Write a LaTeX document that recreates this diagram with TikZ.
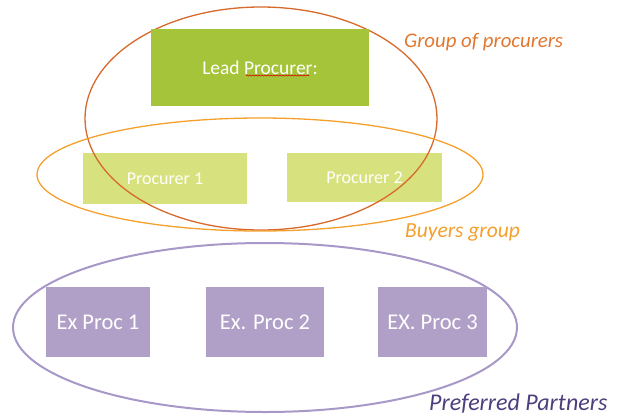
\documentclass[tikz,border=0pt]{standalone}
\usepackage{fontspec}
\setmainfont{Carlito}
\usetikzlibrary{positioning}
\usetikzlibrary{shapes.geometric}
\usetikzlibrary{decorations.pathmorphing}
\definecolor{leadgreen}{HTML}{A5C43A}
\definecolor{procgreen}{HTML}{D7E27E}
\definecolor{exlilac}{HTML}{B0A0C7}
\definecolor{grpbrown}{HTML}{D7692B}
\definecolor{grptext}{HTML}{E2772F}
\definecolor{buyorange}{HTML}{F59F2C}
\definecolor{preflilac}{HTML}{A898C8}
\definecolor{preftext}{HTML}{4E3E7C}
\tikzset{box/.style={inner sep=0pt,text=white,font=\fontsize{18}{20}\selectfont}}
\tikzset{ring/.style={ellipse,draw,inner sep=0pt}}
\tikzset{tag/.style={inner sep=0pt,font=\itshape}}

\begin{document}
\begin{tikzpicture}[x=1pt,y=-1pt]
\useasboundingbox (0,0) rectangle (622,418);
\node[box,fill=procgreen,minimum width=164pt,minimum height=51pt] (P1) at (165,178.5) {Procurer 1};
\node[box,fill=procgreen,minimum width=155pt,minimum height=49pt] (P2) at (364.5,177.5) {Procurer 2};

\node[ring,draw=grpbrown,line width=1.3pt,minimum width=352pt,minimum height=223pt] (group) at (261,118.5) {};
\node[ring,draw=buyorange,line width=1.3pt,minimum width=446pt,minimum height=113pt] (buyers) at (260,174.5) {};
\node[ring,draw=preflilac,line width=2pt,minimum width=504pt,minimum height=169pt] (pref) at (265,327.5) {};

\node[box,fill=leadgreen,minimum width=218pt,minimum height=77pt,font=\fontsize{19.5}{22}\selectfont] (lead) at (260,67.5) {Lead Procurer:};
\draw[red!85!black,line width=0.6pt,decorate,decoration={snake,amplitude=0.6pt,segment length=3pt}] (246,75.5) -- (309,75.5);

\node[box,fill=exlilac,minimum width=104pt,minimum height=70pt,font=\fontsize{22.5}{25}\selectfont] (E1) at (98,322) {Ex Proc 1};
\node[box,fill=exlilac,minimum width=118pt,minimum height=70pt,font=\fontsize{22.5}{25}\selectfont] (E2) at (265,322) {Ex. Proc 2};
\node[box,fill=exlilac,minimum width=109pt,minimum height=70pt,font=\fontsize{22.5}{25}\selectfont] (E3) at (432.5,322) {EX. Proc 3};

\node[tag,text=grptext,anchor=west,font=\itshape\fontsize{20.8}{23}\selectfont] (grouptag) at (404,42) {Group of procurers};
\node[tag,text=buyorange,anchor=west,font=\itshape\fontsize{21.5}{23}\selectfont] (buyerstag) at (405,232) {Buyers group};
\node[tag,text=preftext,anchor=west,font=\itshape\fontsize{24}{26}\selectfont] (preftag) at (429,404) {Preferred Partners};
\end{tikzpicture}
\end{document}
